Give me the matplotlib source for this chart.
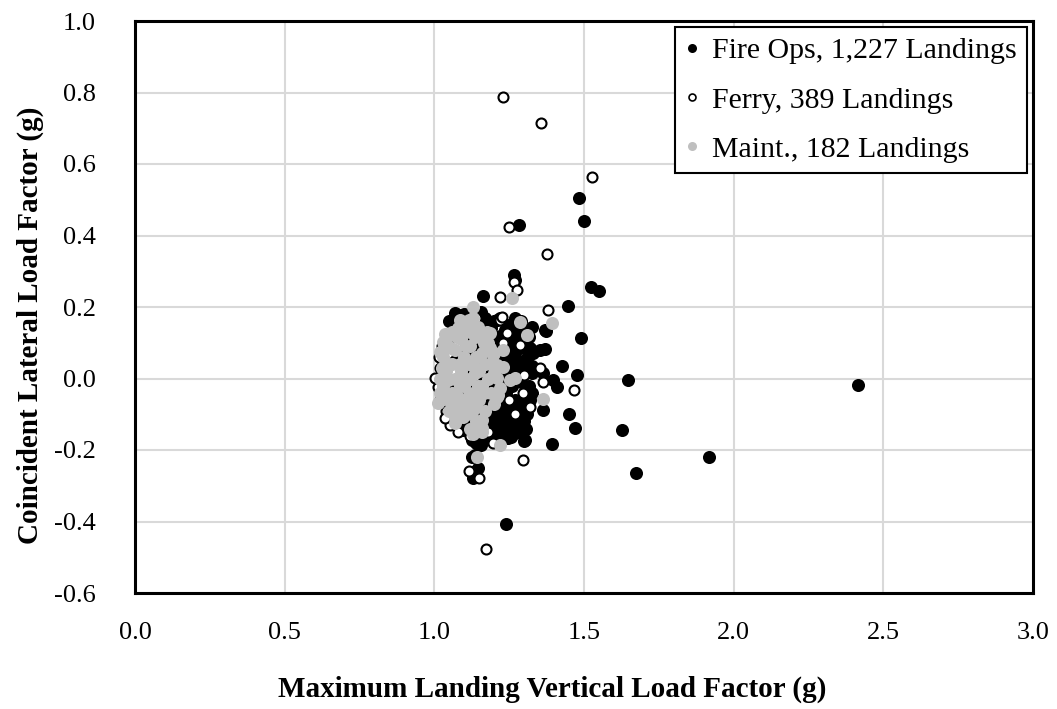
import matplotlib
matplotlib.use("Agg")
import matplotlib.pyplot as plt
from matplotlib.lines import Line2D

# ---------------- data ----------------
fire_ops = [
    (2.415, -0.018), (1.918, -0.220), (1.674, -0.265), (1.627, -0.144), (1.647, -0.004),
    (1.483, 0.505), (1.500, 0.440), (1.283, 0.430), (1.266, 0.290), (1.270, 0.275),
    (1.523, 0.256), (1.550, 0.245), (1.447, 0.203), (1.373, 0.133), (1.490, 0.113),
    (1.370, 0.082), (1.426, 0.035), (1.363, 0.015), (1.476, 0.010), (1.397, -0.004),
    (1.410, -0.023), (1.363, -0.088), (1.450, -0.100), (1.470, -0.138), (1.393, -0.183),
    (1.240, -0.407), (1.163, 0.230), (1.069, 0.183), (1.096, 0.169), (1.079, 0.178),
    (1.086, 0.158), (1.193, 0.158), (1.209, 0.164), (1.326, 0.144), (1.370, 0.136),
    (1.263, 0.130), (1.320, 0.085), (1.353, 0.080), (1.326, 0.015), (1.303, -0.172),
    (1.270, -0.152), (1.246, -0.166), (1.126, -0.172), (1.126, -0.220), (1.126, -0.262),
    (1.130, -0.278), (1.146, -0.250), (1.136, -0.214), (1.313, -0.080), (1.286, -0.091),
    (1.253, -0.088), (1.300, -0.175), (1.160, 0.120), (1.190, 0.140), (1.220, 0.120),
    (1.250, 0.100), (1.280, 0.120), (1.300, 0.090), (1.180, 0.080), (1.210, 0.060),
    (1.240, 0.050), (1.270, 0.060), (1.300, 0.040), (1.170, 0.030), (1.200, 0.010),
    (1.230, -0.010), (1.260, 0.020), (1.290, -0.010), (1.315, -0.020), (1.180, -0.030),
    (1.210, -0.050), (1.240, -0.040), (1.270, -0.060), (1.300, -0.050), (1.320, -0.060),
    (1.160, -0.070), (1.190, -0.090), (1.220, -0.100), (1.250, -0.090), (1.280, -0.110),
    (1.310, -0.100), (1.170, -0.120), (1.200, -0.140), (1.230, -0.130), (1.260, -0.120),
    (1.150, -0.160), (1.180, -0.170), (1.210, -0.160), (1.120, -0.150), (1.100, -0.130),
    (1.130, -0.110), (1.140, -0.180), (1.110, 0.150), (1.140, 0.160), (1.170, 0.170),
    (1.080, 0.170), (1.050, 0.160), (1.100, 0.120), (1.130, 0.130), (1.060, 0.120),
    (1.040, 0.090), (1.070, 0.050), (1.050, -0.030), (1.080, -0.070), (1.060, -0.100),
    (1.150, 0.060), (1.140, -0.020), (1.290, 0.160), (1.250, 0.150), (1.220, 0.170),
    (1.200, 0.160), (1.270, 0.170), (1.310, 0.020), (1.330, 0.070), (1.290, -0.070),
    (1.230, 0.090), (1.190, 0.100), (1.260, -0.020), (1.280, 0.030), (1.200, -0.020),
    (1.170, -0.050), (1.240, -0.070), (1.220, -0.080), (1.300, -0.120), (1.280, -0.150),
    (1.250, -0.140), (1.190, -0.120), (1.160, -0.100), (1.130, -0.070), (1.110, -0.090),
    (1.090, -0.040), (1.120, 0.020), (1.100, 0.080), (1.150, 0.100), (1.130, 0.080),
    (1.175, 0.135), (1.205, 0.115), (1.235, 0.135), (1.265, 0.115), (1.295, 0.135),
    (1.315, 0.115), (1.165, 0.095), (1.195, 0.075), (1.225, 0.065), (1.255, 0.075),
    (1.285, 0.085), (1.315, 0.065), (1.185, 0.045), (1.215, 0.025), (1.245, 0.025),
    (1.275, 0.045), (1.305, 0.055), (1.325, 0.035), (1.165, 0.005), (1.195, -0.015),
    (1.225, 0.005), (1.255, -0.005), (1.285, 0.005), (1.310, -0.035), (1.175, -0.065),
    (1.205, -0.075), (1.235, -0.055), (1.265, -0.085), (1.295, -0.085), (1.325, -0.040),
    (1.185, -0.105), (1.215, -0.125), (1.245, -0.115), (1.275, -0.130), (1.305, -0.140),
    (1.165, -0.140), (1.195, -0.155), (1.225, -0.150), (1.255, -0.165), (1.140, -0.145),
    (1.155, -0.185), (1.090, 0.160), (1.125, 0.175), (1.155, 0.185), (1.100, 0.180),
    (1.065, 0.140), (1.095, -0.145), (1.080, -0.120), (1.120, -0.130),
]

ferry = [
    (1.229, 0.787), (1.356, 0.714), (1.527, 0.564), (1.249, 0.423), (1.376, 0.348),
    (1.266, 0.270), (1.276, 0.248), (1.220, 0.228), (1.380, 0.192), (1.467, -0.032),
    (1.363, -0.010), (1.296, -0.229), (1.173, -0.477), (1.117, -0.258), (1.150, -0.278),
    (1.052, -0.130), (1.012, -0.024), (1.002, 0.001), (1.019, 0.029), (1.196, -0.180),
    (1.140, 0.170), (1.220, 0.165), (1.226, 0.171), (1.243, 0.127), (1.229, 0.099),
    (1.286, 0.093), (1.353, 0.029), (1.296, -0.040), (1.020, -0.060), (1.030, 0.050),
    (1.040, -0.090), (1.025, 0.090), (1.035, -0.110), (1.015, 0.060), (1.045, 0.110),
    (1.100, 0.150), (1.160, 0.130), (1.200, 0.060), (1.250, -0.060), (1.300, 0.010),
    (1.180, -0.150), (1.120, -0.160), (1.080, -0.150), (1.270, -0.100), (1.320, -0.080),
]

maint = [
    (1.030, 0.060), (1.040, 0.020), (1.030, -0.020), (1.050, -0.060), (1.040, 0.100),
    (1.060, 0.130), (1.070, 0.080), (1.060, 0.040), (1.070, 0.000), (1.060, -0.040),
    (1.080, -0.080), (1.070, -0.110), (1.090, 0.110), (1.100, 0.060), (1.090, 0.020),
    (1.100, -0.020), (1.090, -0.060), (1.110, -0.100), (1.120, 0.140), (1.120, 0.090),
    (1.130, 0.040), (1.120, 0.000), (1.130, -0.040), (1.120, -0.070), (1.140, -0.120),
    (1.150, 0.120), (1.160, 0.070), (1.150, 0.020), (1.160, -0.020), (1.150, -0.060),
    (1.170, -0.090), (1.180, 0.100), (1.190, 0.040), (1.180, 0.000), (1.190, -0.040),
    (1.200, 0.070), (1.100, 0.150), (1.080, 0.140), (1.130, 0.170), (1.020, -0.040),
    (1.012, -0.068), (1.020, 0.074), (1.030, 0.102), (1.060, 0.127), (1.096, -0.108),
    (1.069, -0.124), (1.159, -0.138), (1.143, -0.220), (1.220, -0.186), (1.260, 0.225),
    (1.130, 0.200), (1.393, 0.155), (1.286, 0.158), (1.310, 0.121), (1.363, -0.058),
    (1.229, 0.032), (1.270, 0.001), (1.209, 0.001), (1.219, -0.027), (1.209, -0.052),
    (1.186, 0.127), (1.186, 0.085), (1.253, -0.004), (1.213, -0.046), (1.230, 0.080),
    (1.209, 0.038), (1.143, -0.135), (1.159, -0.150), (1.045, 0.040), (1.045, -0.005),
    (1.035, -0.045), (1.055, 0.085), (1.075, 0.115), (1.085, 0.040), (1.085, -0.020),
    (1.075, -0.050), (1.095, -0.085), (1.105, 0.130), (1.105, 0.090), (1.115, 0.040),
    (1.105, 0.000), (1.115, -0.045), (1.125, -0.095), (1.135, 0.115), (1.140, 0.060),
    (1.135, 0.015), (1.145, -0.020), (1.140, -0.080), (1.165, 0.100), (1.170, 0.040),
    (1.165, -0.040), (1.160, -0.115), (1.175, 0.130), (1.195, 0.065), (1.200, 0.015),
    (1.200, -0.070), (1.050, -0.090), (1.025, 0.030), (1.020, 0.000), (1.035, 0.125),
    (1.085, 0.165), (1.115, 0.165), (1.120, -0.140), (1.130, -0.155), (1.145, 0.145),
]

series_labels = ["Fire Ops, 1,227 Landings", "Ferry, 389 Landings", "Maint., 182 Landings"]
x_ticks = [0.0, 0.5, 1.0, 1.5, 2.0, 2.5, 3.0]
y_ticks = [-0.6, -0.4, -0.2, 0.0, 0.2, 0.4, 0.6, 0.8, 1.0]
x_label = "Maximum Landing Vertical Load Factor (g)"
y_label = "Coincident Lateral Load Factor (g)"

# ---------------- figure ----------------
plt.rcParams['font.family'] = ['Liberation Serif', 'DejaVu Serif']
W, H = 1057, 709
fig = plt.figure(figsize=(W / 100, H / 100), dpi=100)
ax = fig.add_axes([135 / W, 1 - 593 / H, (1033 - 135) / W, (593 - 21) / H])

def xy(pts):
    return [p[0] for p in pts], [p[1] for p in pts]

fx, fy = xy(fire_ops)
ax.plot(fx, fy, linestyle='none', marker='o', ms=9.4, mfc='black', mec='black', mew=0, zorder=3)
ex, ey = xy(ferry)
ax.plot(ex, ey, linestyle='none', marker='o', ms=7.2, mfc='white', mec='black', mew=1.5, zorder=4)
mx, my = xy(maint)
ax.plot(mx, my, linestyle='none', marker='o', ms=9.4, mfc='#bfbfbf', mec='#bfbfbf', mew=0, zorder=5)

ax.set_xlim(0, 3.0)
ax.set_ylim(-0.6, 1.0)
ax.set_xticks(x_ticks)
ax.set_yticks(y_ticks)
ax.set_xticklabels([f"{v:.1f}" for v in x_ticks])
ax.set_yticklabels([f"{v:.1f}" for v in y_ticks])
ax.tick_params(length=0, labelsize=19, colors='black')
ax.tick_params(axis='x', pad=21)
ax.tick_params(axis='y', pad=28)
ax.grid(True, color='#d9d9d9', linewidth=1.5, zorder=0)
ax.set_axisbelow(True)
for s in ax.spines.values():
    s.set_linewidth(2.2)
    s.set_color('black')

fig.text(552 / W, 1 - 689 / H, x_label, ha='center', va='center', fontsize=21, fontweight='bold')
fig.text(30 / W, 1 - 325 / H, y_label, ha='center', va='center', rotation=90, fontsize=21, fontweight='bold')

handles = [
    Line2D([], [], linestyle='none', marker='o', ms=6.5, mfc='black', mec='black', mew=0),
    Line2D([], [], linestyle='none', marker='o', ms=5.0, mfc='white', mec='black', mew=1.2),
    Line2D([], [], linestyle='none', marker='o', ms=6.5, mfc='#bfbfbf', mec='#bfbfbf', mew=0),
]
leg = ax.legend(handles, series_labels, loc='upper right', fontsize=21.5, frameon=True,
                fancybox=False, framealpha=1, edgecolor='black', borderaxespad=0.2,
                handlelength=0.5, handletextpad=0.4, labelspacing=0.75, borderpad=0.35)
leg.get_frame().set_linewidth(1.5)

fig.savefig("out.png", dpi=100)
